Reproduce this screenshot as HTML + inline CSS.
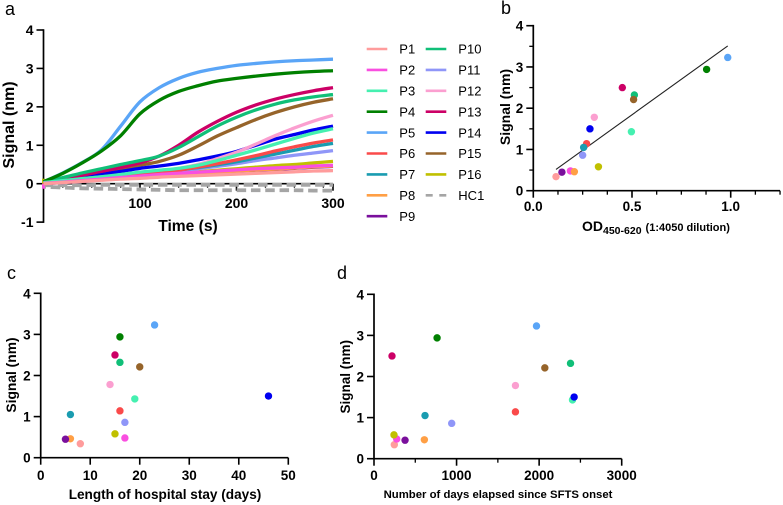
<!DOCTYPE html>
<html lang="en">
<head>
<meta charset="utf-8">
<title>Signal charts</title>
<style>
html,body{margin:0;padding:0;background:#fff;width:783px;height:505px;overflow:hidden}
svg{display:block}
text{font-family:"Liberation Sans",sans-serif;fill:#000}
.b{font-weight:700}
</style>
</head>
<body>
<svg id="fig" xmlns="http://www.w3.org/2000/svg" width="783" height="505" viewBox="0 0 783 505"></svg>
<script>
const patients = ["P1","P2","P3","P4","P5","P6","P7","P8","P9","P10","P11","P12","P13","P14","P15","P16"];
const colors = ["#ff9c9c","#f94fe0","#45f0b0","#008000","#5aa5f7","#fa4a4a","#1a9cb0","#ff9f45","#7a0f9c","#10bf78","#8f96f8","#fb9fd0","#cc0066","#0000f0","#96642a","#c0c000"];
const times = [0,20,40,60,80,100,120,140,160,180,200,220,240,260,280,300];
const curveP1 = [0,.03,.06,.09,.12,.14,.17,.19,.21,.23,.25,.27,.29,.31,.33,.34];
const curveP2 = [.01,.04,.08,.12,.16,.2,.24,.27,.3,.33,.36,.39,.41,.43,.46,.48];
const curveP3 = [.03,.08,.13,.18,.24,.3,.35,.4,.48,.6,.74,.88,1.03,1.18,1.32,1.43];
const curveP4 = [.05,.27,.54,.85,1.25,1.82,2.17,2.4,2.55,2.67,2.74,2.8,2.85,2.89,2.92,2.94];
const curveP5 = [.05,.28,.55,.88,1.5,2.13,2.5,2.74,2.9,3.0,3.08,3.13,3.17,3.2,3.22,3.24];
const curveP6 = [.02,.05,.09,.14,.19,.24,.29,.35,.43,.52,.62,.73,.85,.96,1.06,1.14];
const curveP7 = [.03,.08,.13,.18,.23,.27,.31,.36,.42,.49,.57,.67,.77,.87,.97,1.05];
const curveP8 = [0,.04,.07,.1,.14,.17,.21,.24,.27,.3,.33,.36,.38,.41,.44,.46];
const curveP9 = [0,.03,.06,.1,.13,.16,.2,.23,.26,.29,.32,.35,.37,.4,.43,.45];
const curveP10 = [.05,.16,.28,.39,.5,.6,.72,.94,1.22,1.5,1.73,1.92,2.07,2.18,2.26,2.32];
const curveP11 = [.03,.07,.11,.15,.19,.23,.28,.33,.39,.45,.52,.6,.67,.74,.8,.86];
const curveP12 = [.03,.06,.1,.15,.2,.26,.32,.4,.5,.65,.82,1.03,1.25,1.45,1.63,1.78];
const curveP13 = [.05,.13,.22,.32,.42,.54,.72,1.0,1.34,1.62,1.86,2.05,2.2,2.32,2.42,2.5];
const curveP14 = [.03,.09,.16,.24,.32,.4,.46,.53,.62,.72,.84,1.0,1.16,1.28,1.4,1.5];
const curveP15 = [.05,.12,.2,.29,.38,.48,.58,.74,.98,1.24,1.46,1.67,1.85,2.0,2.12,2.21];
const curveP16 = [.03,.06,.09,.12,.16,.2,.24,.28,.31,.35,.39,.43,.47,.5,.54,.58];
const curves = [curveP1,curveP2,curveP3,curveP4,curveP5,curveP6,curveP7,curveP8,curveP9,curveP10,curveP11,curveP12,curveP13,curveP14,curveP15,curveP16];
const hc1Upper = [-.04,-.04,-.04,-.03,-.03,-.03,-.03,-.03,-.03,-.03,-.03,-.03,-.03,-.03,-.03,-.03];
const hc1Lower = [-.08,-.1,-.12,-.13,-.14,-.15,-.16,-.17,-.17,-.17,-.17,-.17,-.17,-.17,-.18,-.18];
const startBlipValues = [.13,-.13];
const startBlipSeries = [15,1];
const signal = [.34,.48,1.43,2.94,3.23,1.14,1.05,.46,.45,2.32,.86,1.78,2.5,1.5,2.21,.58];
const odValues = [.115,.188,.497,.878,.985,.27,.255,.208,.145,.512,.25,.309,.451,.287,.508,.33];
const fitX = [.115,.985];
const fitY = [.516,3.51];
const stayDays = [8,17,19,16,23,16,6,6,5,16,17,14,15,46,20,15];
const onsetDays = [246,275,2404,764,1968,1713,618,610,376,2380,941,1713,218,2424,2069,242];
const ySignalTicks = [0,1,2,3,4];
const yTimeTicks = [-1,0,1,2,3,4];
const xTimeTicks = [100,200,300];
const xTimeMinor = [20,50,80,110,140,170,230,260,290];
const xOdTicks = ["0.0","0.5","1.0"];
const xOdMinor = [.125,.25,.375,.625,.75,.875,1.125,1.25];
const yHalfMinor = [.5,1.5,2.5,3.5];
const xStayTicks = [0,10,20,30,40,50];
const xOnsetTicks = [0,1000,2000,3000];
const xOnsetMinor = [500,1500,2500];

const NS = "http://www.w3.org/2000/svg";
const root = document.getElementById("fig");
function el(tag, attrs, parent, txt){
  const e = document.createElementNS(NS, tag);
  for (const k in attrs) e.setAttribute(k, attrs[k]);
  if (txt !== undefined) e.textContent = txt;
  (parent || root).appendChild(e);
  return e;
}
function scale(d0,d1,r0,r1){ return v => r0 + (v-d0)*(r1-r0)/(d1-d0); }
function smoothPath(pts){
  let d = "M"+pts[0][0].toFixed(2)+" "+pts[0][1].toFixed(2);
  for (let i=0;i<pts.length-1;i++){
    const p0=pts[Math.max(i-1,0)],p1=pts[i],p2=pts[i+1],p3=pts[Math.min(i+2,pts.length-1)];
    const c1x=p1[0]+(p2[0]-p0[0])/6,c1y=p1[1]+(p2[1]-p0[1])/6,c2x=p2[0]-(p3[0]-p1[0])/6,c2y=p2[1]-(p3[1]-p1[1])/6;
    d+=" C"+c1x.toFixed(2)+" "+c1y.toFixed(2)+" "+c2x.toFixed(2)+" "+c2y.toFixed(2)+" "+p2[0].toFixed(2)+" "+p2[1].toFixed(2);
  }
  return d;
}
function makePanel(name){
  const g = el("g",{});
  
  
  return g;
}
function label(g,name,x,y,txt,size,cls,anchor,rot){
  const a = {x:x,y:y,"font-size":size,"text-anchor":anchor||"middle"};
  if (cls) a["class"]=cls;
  if (rot) a.transform="rotate(-90 "+x+" "+y+")";
  const t = el("text",a,g,txt);
  
  
  return t;
}
function drawAxes(g,o){
  const xa = el("line",{x1:o.xLeft,x2:o.xRight,y1:o.xAxisY,y2:o.xAxisY,stroke:"#000","stroke-width":1.7},g);
  
  
  const ya = el("line",{x1:o.xLeft,x2:o.xLeft,y1:o.yTop-.8,y2:o.yBottom+.8,stroke:"#000","stroke-width":1.7},g);
  
  
  o.yTicks.forEach(v=>{
    const y=o.sy(v);
    const t = el("line",{x1:o.xLeft-7,x2:o.xLeft,y1:y,y2:y,stroke:"#000","stroke-width":1.6},g);
    
    
    label(g,"y-tick-label",o.xLeft-10,y+5,String(v),o.tickSize,"b","end");
  });
  (o.yMinor||[]).forEach(v=>{
    const y=o.sy(v);
    const t = el("line",{x1:o.xLeft-4,x2:o.xLeft,y1:y,y2:y,stroke:"#000","stroke-width":1.3},g);
    
    
  });
  o.xTicks.forEach(v=>{
    const x=o.sx(parseFloat(v));
    const t = el("line",{x1:x,x2:x,y1:o.xAxisY,y2:o.xAxisY+7,stroke:"#000","stroke-width":1.6},g);
    
    
    label(g,"x-tick-label",x,o.xLabelY,String(v),o.tickSize,"b","middle");
  });
  (o.xMinor||[]).forEach(v=>{
    const x=o.sx(v);
    const t = el("line",{x1:x,x2:x,y1:o.xAxisY,y2:o.xAxisY+4,stroke:"#000","stroke-width":1.3},g);
    
    
  });
}
function drawDots(g,xs,ys,sx,sy){
  patients.forEach((p,i)=>{
    const c = el("circle",{cx:sx(xs[i]),cy:sy(ys[i]),r:3.7,fill:colors[i]},g);
    
    
  });
}

/* panel a */
const ga = makePanel("panel-a-time-course");
label(ga,"panel-a-letter",5,15,"a",18,"","start");
const ax = scale(0,300,43.5,333), ay = scale(0,4,183.7,30);
drawAxes(ga,{xLeft:43.5,xRight:333,xAxisY:ay(0),yTop:ay(4),yBottom:ay(-1),sx:ax,sy:ay,yTicks:yTimeTicks,xTicks:xTimeTicks,xMinor:xTimeMinor,tickSize:14,xLabelY:208});
[[hc1Upper,"hc1-line-upper"],[hc1Lower,"hc1-line-lower"]].forEach(([vals,nm],k)=>{
  const pts = times.map((t,i)=>[ax(t),ay(vals[i])]);
  const l = el("path",{d:smoothPath(pts),fill:"none",stroke:"#a5a5a5","stroke-width":3.8,"stroke-dasharray":"9.5 4.8","stroke-dashoffset":k*7},ga);
  
  
});
startBlipSeries.forEach((s,k)=>{
  const b = el("line",{x1:ax(0),x2:ax(0),y1:ay(0),y2:ay(startBlipValues[k]),stroke:colors[s],"stroke-width":3},ga);
  
  
});
for (let i=patients.length-1;i>=0;i--){
  const pts = times.map((t,j)=>[ax(t),ay(curves[i][j])]);
  const l = el("path",{d:smoothPath(pts),fill:"none",stroke:colors[i],"stroke-width":3.3,"stroke-linecap":"butt"},ga);
  
  
}
label(ga,"x-axis-title",188,231,"Time (s)",15.6,"b");
label(ga,"y-axis-title",14,125,"Signal (nm)",16,"b","middle",true);

/* legend */
const lg = makePanel("legend");
const legendRowStep = 20.9;
patients.forEach((p,i)=>{
  const col = i<9?0:1, row = i<9?i:i-9;
  const y = 49 + row*legendRowStep;
  const x0 = col?425.7:366.7;
  const s = el("line",{x1:x0,x2:x0+20.6,y1:y,y2:y,stroke:colors[i],"stroke-width":2.6},lg);
  
  
  label(lg,"legend-label-"+p.toLowerCase(),col?458.3:399.3,y+4.7,p,13,"","start");
});
{
  const y = 49 + 7*legendRowStep;
  const s = el("line",{x1:425.7,x2:446.3,y1:y,y2:y,stroke:"#a5a5a5","stroke-width":2.6,"stroke-dasharray":"7 6.6"},lg);
  
  
  label(lg,"legend-label-hc1",458.3,y+4.7,"HC1",13,"","start");
}

/* panel b */
const gb = makePanel("panel-b-od-scatter");
label(gb,"panel-b-letter",501,14,"b",18,"","start");
const bx = scale(0,1,533.3,730.7), by = scale(0,4,190.7,25.7);
drawAxes(gb,{xLeft:533.3,xRight:780,xAxisY:by(0),yTop:by(4),yBottom:by(0),sx:bx,sy:by,yTicks:ySignalTicks,yMinor:yHalfMinor,xTicks:xOdTicks,xMinor:xOdMinor,tickSize:13.5,xLabelY:211});
const fit = el("line",{x1:bx(fitX[0]),y1:by(fitY[0]),x2:bx(fitX[1]),y2:by(fitY[1]),stroke:"#222","stroke-width":1.1},gb);


drawDots(gb,odValues,signal,bx,by);
label(gb,"y-axis-title",510,107,"Signal (nm)",14,"b","middle",true);
const xtb = el("text",{x:582,y:231,"font-size":14,"class":"b"},gb);


el("tspan",{},xtb,"OD");
el("tspan",{"font-size":10.5,dy:3},xtb,"450-620");
el("tspan",{"font-size":11,dy:-3,dx:4},xtb,"(1:4050 dilution)");

/* panel c */
const gc = makePanel("panel-c-stay-scatter");
label(gc,"panel-c-letter",7,279,"c",18,"","start");
const cx = scale(0,50,40.7,288.3), cy = scale(0,4,457.7,293.3);
drawAxes(gc,{xLeft:40.7,xRight:288.3,xAxisY:cy(0),yTop:cy(4),yBottom:cy(0),sx:cx,sy:cy,yTicks:ySignalTicks,xTicks:xStayTicks,tickSize:13.5,xLabelY:480});
drawDots(gc,stayDays,signal,cx,cy);
label(gc,"y-axis-title",16,375,"Signal (nm)",13.8,"b","middle",true);
label(gc,"x-axis-title",165,499,"Length of hospital stay (days)",13.6,"b");

/* panel d */
const gd = makePanel("panel-d-onset-scatter");
label(gd,"panel-d-letter",337,279,"d",18,"","start");
const dx = scale(0,3000,374,621.7), dy = scale(0,4,458.7,294.3);
drawAxes(gd,{xLeft:374,xRight:621.7,xAxisY:dy(0),yTop:dy(4),yBottom:dy(0),sx:dx,sy:dy,yTicks:ySignalTicks,xTicks:xOnsetTicks,xMinor:xOnsetMinor,tickSize:13.5,xLabelY:480});
drawDots(gd,onsetDays,signal,dx,dy);
label(gd,"y-axis-title",350,376.7,"Signal (nm)",13.5,"b","middle",true);
label(gd,"x-axis-title",498,498,"Number of days elapsed since SFTS onset",11.35,"b");
</script>
</body>
</html>
